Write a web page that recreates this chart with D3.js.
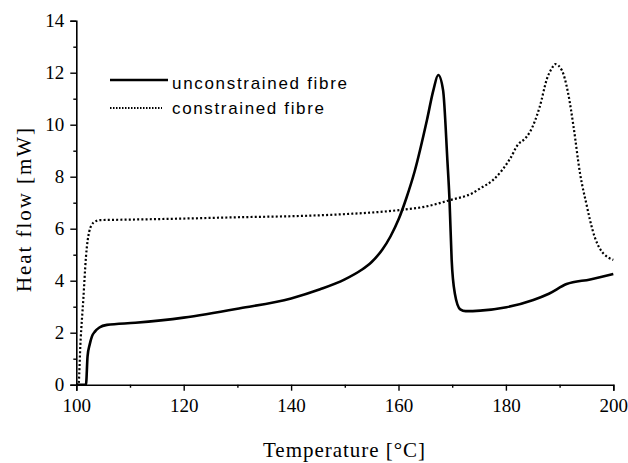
<!DOCTYPE html>
<html>
<head>
<meta charset="utf-8">
<script src="https://cdn.jsdelivr.net/npm/d3@7"></script>
<style>
  html, body { margin: 0; padding: 0; background: #fff; }
  svg { display: block; }
</style>
</head>
<body>
<svg id="chart" width="628" height="463"></svg>
<script>
// ---- data ----
const unconstrainedT = [100, 101.8, 102.1, 102.5, 102.9, 103.5, 104.3, 105.7, 111, 120, 130.5, 140, 145.4, 150, 153, 155, 157, 158.5, 160, 161.5, 163, 165.3, 166.5, 167.4, 168.3, 169.1, 169.5, 169.9, 170.5, 171.5, 172.5, 175.2, 180.1, 185.1, 188, 191.3, 195.7, 200];
const unconstrainedY = [0, 0, 1.1, 1.55, 1.85, 2.05, 2.2, 2.3, 2.38, 2.58, 2.94, 3.32, 3.67, 4.05, 4.4, 4.72, 5.2, 5.7, 6.35, 7.2, 8.2, 10.18, 11.33, 11.91, 11.33, 8.64, 7.1, 4.8, 3.5, 2.9, 2.83, 2.85, 2.98, 3.26, 3.5, 3.87, 4.05, 4.26];
const constrainedT = [100, 100.4, 100.8, 101.3, 101.8, 102.4, 103.2, 104.4, 110, 120, 130, 141.7, 150, 160.3, 165, 169.6, 173.9, 175.2, 177.6, 180.8, 182.3, 183.5, 184.5, 186.3, 187.7, 188.5, 189.2, 190.4, 191.6, 192.6, 193.8, 195.1, 195.7, 196.5, 197.6, 199, 200];
const constrainedY = [0, 0, 1.72, 3.26, 4.92, 5.88, 6.23, 6.33, 6.35, 6.39, 6.44, 6.49, 6.56, 6.72, 6.85, 7.1, 7.38, 7.55, 7.87, 8.7, 9.25, 9.45, 9.73, 10.69, 11.8, 12.15, 12.33, 12.1, 11.2, 9.92, 8.13, 6.85, 6.3, 5.7, 5.2, 4.9, 4.8];
const xTicks = [100, 120, 140, 160, 180, 200];
const xMinorTicks = [110, 130, 150, 170, 190];
const yTicks = [0, 2, 4, 6, 8, 10, 12, 14];
const yMinorTicks = [1, 3, 5, 7, 9, 11, 13];
const seriesNames = ["unconstrained fibre", "constrained fibre"];

// ---- scales ----
const svg = d3.select("#chart");
const x = d3.scaleLinear().domain([100, 200]).range([76.3, 613.3]);
const y = d3.scaleLinear().domain([0, 14]).range([384.7, 20.7]);

// ---- axes ----
const gx = svg.append("g").attr("transform", `translate(0,${y(0)})`);
gx.call(d3.axisBottom(x).tickValues(xTicks).tickSize(6).tickPadding(8).tickFormat(d3.format("d")));
const gxm = svg.append("g").attr("transform", `translate(0,${y(0)})`);
gxm.call(d3.axisBottom(x).tickValues(xMinorTicks).tickSize(3).tickFormat(""));
gxm.select(".domain").remove();

const gy = svg.append("g").attr("transform", `translate(${x(100)},0)`);
gy.call(d3.axisLeft(y).tickValues(yTicks).tickSize(6).tickPadding(6).tickFormat(d3.format("d")));
const gym = svg.append("g").attr("transform", `translate(${x(100)},0)`);
gym.call(d3.axisLeft(y).tickValues(yMinorTicks).tickSize(3).tickFormat(""));
gym.select(".domain").remove();

svg.selectAll(".domain").attr("stroke", "#000").attr("stroke-width", 1.6);
svg.selectAll(".tick line").attr("stroke", "#000").attr("stroke-width", 1.4);
svg.selectAll(".tick text")
  .attr("font-family", "'Liberation Serif', 'Times New Roman', serif")
  .attr("font-size", 19)
  .attr("fill", "#000");
gx.selectAll(".tick text").attr("dy", "0.71em");

// ---- lines ----
const line = d3.line().x(d => x(d[0])).y(d => y(d[1])).curve(d3.curveMonotoneX);
const uData = unconstrainedT.map((t, i) => [t, unconstrainedY[i]]);
const cData = constrainedT.map((t, i) => [t, constrainedY[i]]);

svg.append("path").datum(cData)
  .attr("d", line)
  .attr("fill", "none")
  .attr("stroke", "#000")
  .attr("stroke-width", 2.2)
  .attr("stroke-dasharray", "2,2.2");

svg.append("path").datum(uData)
  .attr("d", line)
  .attr("fill", "none")
  .attr("stroke", "#000")
  .attr("stroke-width", 2.6)
  .attr("stroke-linejoin", "round");

// ---- legend ----
const lg = svg.append("g");
lg.append("line").attr("x1", 110).attr("x2", 168).attr("y1", 80).attr("y2", 80)
  .attr("stroke", "#000").attr("stroke-width", 2.4);
lg.append("line").attr("x1", 110).attr("x2", 162).attr("y1", 108).attr("y2", 108)
  .attr("stroke", "#000").attr("stroke-width", 1.8).attr("stroke-dasharray", "1.5,1.5");
lg.append("text").attr("x", 172).attr("y", 88.5)
  .attr("font-family", "'Liberation Sans', Arial, sans-serif").attr("font-size", 17)
  .attr("textLength", 175).attr("lengthAdjust", "spacing")
  .text(seriesNames[0]);
lg.append("text").attr("x", 172).attr("y", 113.5)
  .attr("font-family", "'Liberation Sans', Arial, sans-serif").attr("font-size", 17)
  .attr("textLength", 152).attr("lengthAdjust", "spacing")
  .text(seriesNames[1]);

// ---- axis titles ----
svg.append("text").attr("x", 263).attr("y", 457)
  .attr("font-family", "'Liberation Serif', 'Times New Roman', serif").attr("font-size", 21)
  .attr("textLength", 162).attr("lengthAdjust", "spacing")
  .text("Temperature [°C]");
svg.append("text")
  .attr("transform", "translate(31,292) rotate(-90)")
  .attr("font-family", "'Liberation Serif', 'Times New Roman', serif").attr("font-size", 21)
  .attr("textLength", 164).attr("lengthAdjust", "spacing")
  .text("Heat flow [mW]");
</script>
</body>
</html>
